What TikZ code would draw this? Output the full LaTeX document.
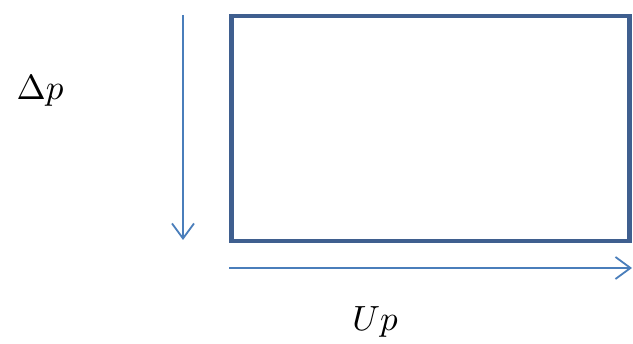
\documentclass[tikz,border=0pt]{standalone}
\usetikzlibrary{arrows.meta}
\definecolor{boxblue}{HTML}{3F5F8F}
\definecolor{arrblue}{HTML}{4A7EBB}
\tikzset{
  frame/.style={draw=boxblue, line width=4.5pt, line join=miter},
  arr/.style={draw=arrblue, line width=1.8pt, -{Straight Barb[length=15pt,width=22pt,line width=1.8pt]}},
  lbl/.style={inner sep=0pt, scale=3.5}
}
\begin{document}
\begin{tikzpicture}[x=1pt,y=-1pt]
\useasboundingbox (0,0) rectangle (633,344);
\node[frame, minimum width=398pt, minimum height=225pt, inner sep=0pt, anchor=north west] (box) at (229,14) {};
\coordinate (dtop) at (183,15);
\coordinate (dbot) at (183,240);
\coordinate (rl) at (229,268);
\coordinate (rr) at (632,268);
\draw[arr] (dtop) -- (dbot);
\draw[arr] (rl) -- (rr);
\node[lbl, anchor=base] (dp) at (40,100) {$\Delta p$};
\node[lbl, anchor=base] (up) at (375,331) {$Up$};
\end{tikzpicture}
\end{document}
